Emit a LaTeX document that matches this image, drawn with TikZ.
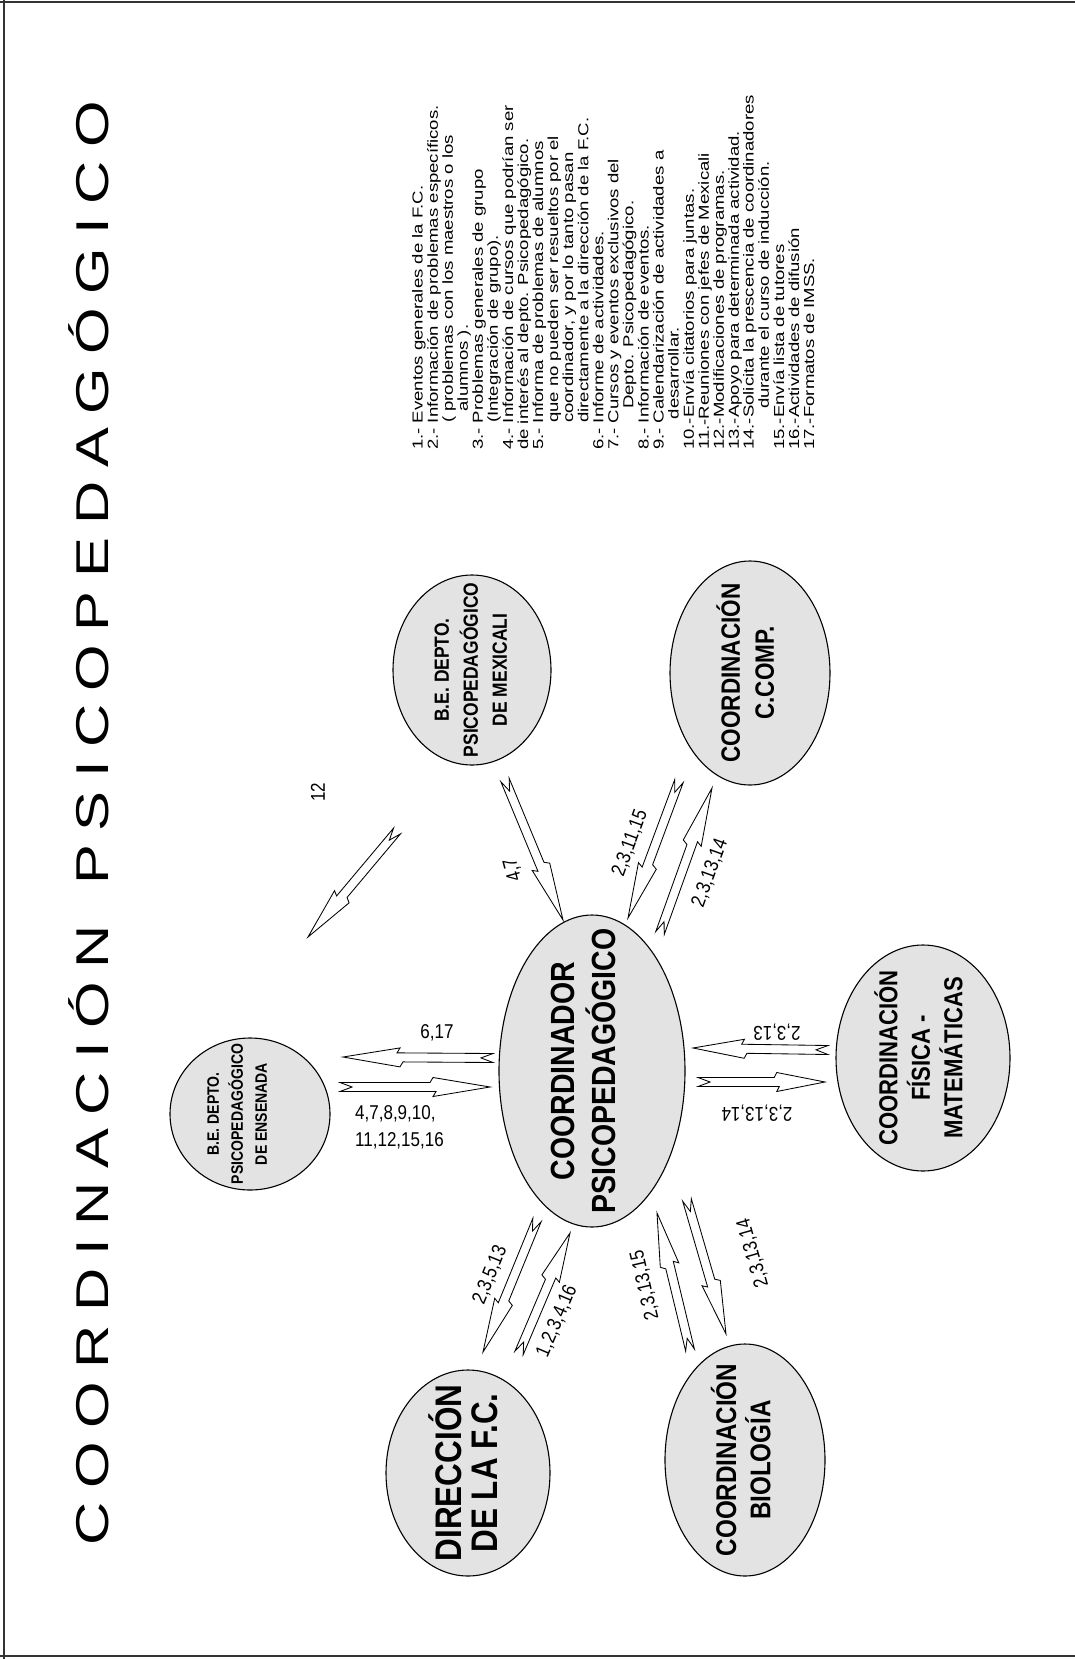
\documentclass[tikz,border=0pt]{standalone}
\usepackage{fontspec}
\setmainfont{Liberation Sans}
\usepackage{graphicx}
\usetikzlibrary{calc,shapes.geometric}

\newcommand\elltext[3]{\fontsize{#1}{#2}\selectfont\bfseries\scalebox{0.85}[1]{\begin{tabular}{@{}c@{}}#3\end{tabular}}}
\newcommand\labtext[1]{\scalebox{0.85}[1]{#1}}
\newcommand\fatarrow[2]{%
  \draw[arrowstyle] (#2)
   -- ($(#1)!0.62!(#2)!9.5pt!90:(#2)$)
   -- ($(#1)!0.60!(#2)!4.5pt!90:(#2)$)
   -- ($(#1)!4.5pt!90:(#2)$)
   -- ($(#1)!12pt!(#2)$)
   -- ($(#1)!4.5pt!270:(#2)$)
   -- ($(#1)!0.64!(#2)!4.5pt!270:(#2)$)
   -- ($(#1)!0.62!(#2)!9.5pt!270:(#2)$)
   -- cycle;}

\begin{document}
\begin{tikzpicture}[x=1pt,y=-1pt,
  ell/.style={ellipse, draw, line width=1.1pt, fill=black!11, inner sep=0pt},
  etext/.style={rotate=90, inner sep=0pt},
  lab/.style={inner sep=0pt, font=\fontsize{20}{27}\selectfont},
  arrowstyle/.style={draw, fill=white, line width=0.85pt, line join=miter},
  border/.style={line width=2.5pt, black!80}]
\path[use as bounding box, fill=white] (0,0) rectangle (1075,1659);
\draw[border] (0,2) -- (1075,2);
\draw[border] (4,0) -- (4,1659);
\draw[border] (0,1656) -- (1075,1656);

% title
\node[rotate=90, inner sep=0pt, font=\fontsize{46}{46}\selectfont] (title) at (89,823)
 {\scalebox{1.3}[1]{\makebox[1111pt][s]{C\hfill O\hfill O\hfill R\hfill D\hfill I\hfill N\hfill A\hfill C\hfill I\hfill Ó\hfill N\hfill\hfill\hfill P\hfill S\hfill I\hfill C\hfill O\hfill P\hfill E\hfill D\hfill A\hfill G\hfill Ó\hfill G\hfill I\hfill C\hfill O}}};

% list
\node[rotate=90, anchor=north west, inner sep=0pt, align=left, font=\fontsize{14.5}{14.9}\selectfont] (list) at (412,450) {\scalebox{1.28}[1]{\begin{tabular}{@{}l@{}}
1.- Eventos generales de la F.C.\\
2.- Información de problemas específicos.\\
\hspace*{21pt}( problemas con los maestros o los\\
\hspace*{30pt}alumnos ).\\
3.- Problemas generales de grupo\\
\hspace*{21pt}(Integración de grupo).\\
4.- Información de cursos que podrían ser\\
de interés al depto. Psicopedagógico.\\
5.- Informa de problemas de alumnos\\
\hspace*{21pt}que no pueden ser resueltos por el\\
\hspace*{21pt}coordinador, y por lo tanto pasan\\
\hspace*{21pt}directamente a la dirección de la F.C.\\
6.- Informe de actividades.\\
7.- Cursos y eventos exclusivos del\\
\hspace*{32pt}Depto. Psicopedagógico.\\
8.- Información de eventos.\\
9.- Calendarización de actividades a\\
\hspace*{24pt}desarrollar.\\
10.-Envía citatorios para juntas.\\
11.-Reuniones con jefes de Mexicali\\
12.-Modificaciones de programas.\\
13.-Apoyo para determinada actividad.\\
14.-Solicita la prescencia de coordinadores\\
\hspace*{32pt}durante el curso de inducción.\\
15.-Envía lista de tutores\\
16.-Actividades de difusión\\
17.-Formatos de IMSS.
\end{tabular}}};

% ellipses
\node[ell, minimum width=186pt, minimum height=312pt] (cen) at (592,1071) {};
\node[etext] (cenT) at (587,1071) {\elltext{33.5}{40}{COORDINADOR\\PSICOPEDAGÓGICO}};
\node[ell, minimum width=160pt, minimum height=152pt] (ens) at (250,1114) {};
\node[etext] (ensT) at (238,1114) {\elltext{16.5}{24}{B.E. DEPTO.\\PSICOPEDAGÓGICO\\DE ENSENADA}};
\node[ell, minimum width=158pt, minimum height=190pt] (mex) at (472,670) {};
\node[etext] (mexT) at (mex) {\elltext{20.5}{29}{B.E. DEPTO.\\PSICOPEDAGÓGICO\\DE MEXICALI}};
\node[ell, minimum width=160pt, minimum height=224pt] (comp) at (750,673) {};
\node[etext] (compT) at (comp) {\elltext{26.5}{34}{COORDINACIÓN\\C.COMP.}};
\node[ell, minimum width=174pt, minimum height=226pt] (fis) at (923,1058) {};
\node[etext] (fisT) at (fis) {\elltext{26}{31.5}{COORDINACIÓN\\FÍSICA -\\MATEMÁTICAS}};
\node[ell, minimum width=160pt, minimum height=232pt] (bio) at (745,1460) {};
\node[etext] (bioT) at (bio) {\elltext{28.5}{30}{COORDINACIÓN\\BIOLOGÍA}};
\node[ell, minimum width=164pt, minimum height=206pt] (dir) at (468,1473) {};
\node[etext] (dirT) at (dir) {\elltext{37}{33}{DIRECCIÓN\\DE LA F.C.}};

% arrow end points
\coordinate (t12) at (397,831);  \coordinate (h12) at (308,937);
\coordinate (tmx) at (505,780);  \coordinate (hmx) at (563,920);
\coordinate (tca) at (679,781);  \coordinate (hca) at (628,918);
\coordinate (tcb) at (660,933);  \coordinate (hcb) at (712,788);
\coordinate (tea) at (493,1058); \coordinate (hea) at (343,1057);
\coordinate (teb) at (340,1087); \coordinate (heb) at (490,1087);
\coordinate (tfa) at (828,1050); \coordinate (hfa) at (693,1048);
\coordinate (tfb) at (698,1082); \coordinate (hfb) at (825,1082);
\coordinate (tda) at (537,1220); \coordinate (hda) at (483,1352);
\coordinate (tdb) at (519,1353); \coordinate (hdb) at (570,1233);
\coordinate (tba) at (690,1350); \coordinate (hba) at (657,1213);
\coordinate (tbb) at (687,1200); \coordinate (hbb) at (726,1334);

\fatarrow{t12}{h12}
\fatarrow{tmx}{hmx}
\fatarrow{tca}{hca}
\fatarrow{tcb}{hcb}
\fatarrow{tea}{hea}
\fatarrow{teb}{heb}
\fatarrow{tfa}{hfa}
\fatarrow{tfb}{hfb}
\fatarrow{tda}{hda}
\fatarrow{tdb}{hdb}
\fatarrow{tba}{hba}
\fatarrow{tbb}{hbb}

% labels
\node[lab, rotate=90] (l12) at (318,792) {\labtext{12}};
\node[lab, rotate=105] (lmx) at (513,870) {\labtext{4,7}};
\node[lab, rotate=70] (lca) at (630,843) {\labtext{2,3,11,15}};
\node[lab, rotate=70] (lcb) at (710,873) {\labtext{2,3,13,14}};
\node[lab] (lea) at (437,1033) {\labtext{6,17}};
\node[lab, anchor=west, align=left] (leb) at (355,1127) {\labtext{4,7,8,9,10,}\\\labtext{11,12,15,16}};
\node[lab, rotate=180] (lfa) at (777,1032) {\labtext{2,3,13}};
\node[lab, rotate=180] (lfb) at (757,1113) {\labtext{2,3,13,14}};
\node[lab, rotate=68] (lda) at (490,1275) {\labtext{2,3,5,13}};
\node[lab, rotate=67] (ldb) at (557,1321) {\labtext{1,2,3,4,16}};
\node[lab, rotate=103] (lba) at (645,1285) {\labtext{2,3,13,15}};
\node[lab, rotate=106] (lbb) at (753,1253) {\labtext{2,3,13,14}};
\end{tikzpicture}
\end{document}
